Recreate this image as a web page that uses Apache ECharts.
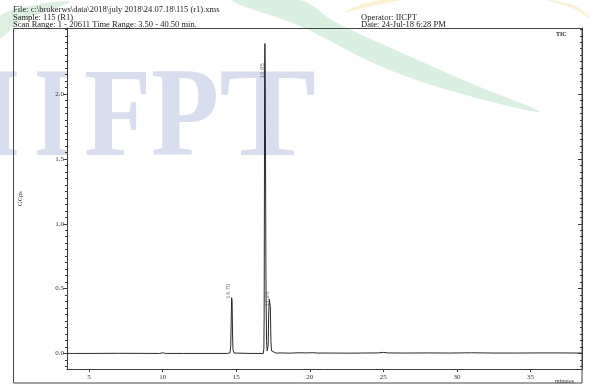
<!DOCTYPE html>
<html><head><meta charset="utf-8">
<script src="https://cdn.jsdelivr.net/npm/echarts@6/dist/echarts.min.js"></script>
<style>html,body{margin:0;padding:0;background:#fff}#c{width:595px;height:388px}</style>
</head><body><div id="c"></div>
<script>
// ---- data ----
const times = [3.5, 3.75, 3.85, 3.95, 5.0, 7.0, 9.8, 10.0, 10.2, 11.4, 11.5, 11.6, 12.4, 12.5, 12.6,
  14.4, 14.58, 14.63, 14.66, 14.69, 14.72, 14.75, 14.78, 14.85, 16.0,
  16.84, 16.88, 16.90, 16.92, 16.93, 16.95, 16.97, 16.99, 17.02, 17.06, 17.10, 17.13,
  17.17, 17.21, 17.25, 17.29, 17.32, 17.36, 17.40, 17.46,
  17.7, 18.2, 18.6, 19.2, 19.8, 20.2, 20.5, 21.5, 22.5, 23.5, 24.6, 25.0, 25.3,
  26.5, 28.0, 29.5, 31.0, 32.5, 34.0, 35.5, 37.0, 38.5];
const signal = [0.0, 0.0, 0.012, 0.0, 0.0, 0.001, 0.0, 0.005, 0.0, 0.0, 0.003, 0.0, 0.0, 0.004, 0.0,
  0.0, 0.005, 0.06, 0.25, 0.43, 0.40, 0.15, 0.03, 0.003, 0.0,
  0.0, 0.04, 0.3, 1.4, 2.2, 2.39, 2.21, 1.6, 0.6, 0.1, 0.02, 0.01,
  0.06, 0.32, 0.42, 0.43, 0.36, 0.09, 0.02, 0.005,
  0.003, 0.004, 0.002, 0.005, 0.004, 0.006, 0.003, 0.003, 0.002, 0.003, 0.004, 0.008, 0.004,
  0.003, 0.004, 0.003, 0.005, 0.003, 0.003, 0.004, 0.004, 0.003];
const peakTimes = [14.70, 16.95, 17.29];
const peakLabelLevels = [0.43, 2.13, 0.37];
const peakLabels = ['14.70', '16.95', '17.28'];
const yLabelValues = [0, 0.5, 1.0, 1.5, 2.0];
const xLabelValues = [5, 10, 15, 20, 25, 30, 35];
const yMin = -0.12, yMax = 2.51, xMin = 3.5, xMax = 38.5;

const yMinorValues = [];
for (let k = -2; k <= 50; k++) yMinorValues.push(Math.round(k * 5) / 100);

const serif = 'Liberation Serif';
const axisColor = '#3a3a3a';

function yAx(pos, ticks, len, inside, withLine, withLabel) {
  return {
    type: 'value', position: pos, min: yMin, max: yMax,
    axisLine: {show: withLine, lineStyle: {color: axisColor, width: 1}},
    axisTick: {show: true, customValues: ticks, length: len, inside: inside, lineStyle: {color: axisColor, width: 1}},
    axisLabel: withLabel ? {show: true, customValues: yLabelValues, formatter: v => v.toFixed(1),
      fontFamily: serif, fontSize: 7, color: '#333', margin: 3} : {show: false},
    splitLine: {show: false}
  };
}

const chart = echarts.init(document.getElementById('c'), null, {renderer: 'canvas'});
const wm = '#d8ddf0';
const wmFont = 'bold 128px "Liberation Serif"';
const hdrFont = '8.5px "Liberation Serif"';
chart.setOption({
  animation: false,
  backgroundColor: '#fff',
  grid: {left: 67, right: 13, top: 28, bottom: 19, containLabel: false},
  xAxis: {
    type: 'value', min: xMin, max: xMax,
    axisLine: {show: true, onZero: false, lineStyle: {color: axisColor, width: 1}},
    axisTick: {show: true, customValues: xLabelValues, length: 3, lineStyle: {color: axisColor}},
    axisLabel: {customValues: xLabelValues, fontFamily: serif, fontSize: 7, color: '#333', margin: 5},
    splitLine: {show: false}
  },
  yAxis: [
    Object.assign(yAx('left', yLabelValues, 4, false, true, true), {
      name: 'GCps', nameLocation: 'middle', nameGap: 43,
      nameTextStyle: {fontFamily: serif, fontSize: 6.5, color: '#333'}
    }),
    yAx('left', yMinorValues, 2, false, false, false),
    yAx('right', yLabelValues, 4, true, true, false),
    yAx('right', yMinorValues, 2, true, false, false)
  ],
  graphic: [
    // background watermark
    {type: 'polygon', z: -5, silent: true, shape: {smooth: 0.35, points: [[300,0],[335,22],[400,52],[470,83],[540,112],[455,92],[380,66],[300,26],[232,0]]}, style: {fill: '#d9efdf'}},
    {type: 'polygon', z: -5, silent: true, shape: {smooth: 0.3, points: [[0,16],[40,4],[70,2],[20,22],[0,38]]}, style: {fill: '#dcefe1'}},
    {type: 'polygon', z: -5, silent: true, shape: {smooth: 0.4, points: [[345,12],[370,2],[400,0],[372,6]]}, style: {fill: '#fbf1cc'}},
    {type: 'polygon', z: -5, silent: true, shape: {smooth: 0.4, points: [[548,0],[575,6],[590,18],[572,8]]}, style: {fill: '#fbf1cc'}},
    {type: 'text', z: -4, silent: true, x: -16, y: 122, scaleX: 0.72, style: {text: 'I', font: wmFont, fill: wm, verticalAlign: 'middle'}},
    {type: 'text', z: -4, silent: true, x: 34, y: 122, scaleX: 0.74, style: {text: 'I', font: wmFont, fill: wm, verticalAlign: 'middle'}},
    {type: 'text', z: -4, silent: true, x: 84, y: 122, scaleX: 0.86, style: {text: 'F', font: wmFont, fill: wm, verticalAlign: 'middle'}},
    {type: 'text', z: -4, silent: true, x: 151, y: 122, scaleX: 0.87, style: {text: 'P', font: wmFont, fill: wm, verticalAlign: 'middle'}},
    {type: 'text', z: -4, silent: true, x: 219, y: 122, scaleX: 1.14, style: {text: 'T', font: wmFont, fill: wm, verticalAlign: 'middle'}},
    // frame
    {type: 'rect', z: 5, silent: true, shape: {x: 13.5, y: 28.5, width: 568.5, height: 354.5}, style: {fill: null, stroke: '#444', lineWidth: 1}},
    // header texts
    {type: 'text', z: 6, x: 13, y: 10, style: {text: 'File: c:\\brukerws\\data\\2018\\july 2018\\24.07.18\\115 (r1).xms', font: hdrFont, fill: '#222', verticalAlign: 'middle'}},
    {type: 'text', z: 6, x: 13, y: 17.5, style: {text: 'Sample: 115 (R1)', font: hdrFont, fill: '#222', verticalAlign: 'middle'}},
    {type: 'text', z: 6, x: 13, y: 24.5, style: {text: 'Scan Range: 1 - 20611 Time Range: 3.50 - 40.50 min.', font: hdrFont, fill: '#222', verticalAlign: 'middle'}},
    {type: 'text', z: 6, x: 361, y: 17.5, style: {text: 'Operator: IICPT', font: hdrFont, fill: '#222', verticalAlign: 'middle'}},
    {type: 'text', z: 6, x: 361, y: 24.5, style: {text: 'Date: 24-Jul-18 6:28 PM', font: hdrFont, fill: '#222', verticalAlign: 'middle'}},
    {type: 'text', z: 6, x: 556, y: 34, style: {text: 'TIC', font: 'bold 6px "Liberation Serif"', fill: '#222', verticalAlign: 'middle'}},
    {type: 'text', z: 6, x: 555, y: 381, style: {text: 'minutes', font: '6px "Liberation Serif"', fill: '#333', verticalAlign: 'middle'}}
  ],
  series: [
    {
      type: 'line', name: 'TIC', data: times.map((t, i) => [t, signal[i]]),
      showSymbol: false, symbol: 'none', sampling: null, z: 3,
      lineStyle: {color: '#2a2a2a', width: 1}
    },
    {
      type: 'scatter', name: 'peaks', data: peakTimes.map((t, i) => [t, peakLabelLevels[i]]),
      symbolSize: 1, itemStyle: {color: 'rgba(0,0,0,0)'}, z: 4,
      label: {show: true, formatter: p => peakLabels[p.dataIndex], rotate: 90, position: 'inside',
        align: 'left', verticalAlign: 'bottom', offset: [-1, 0], fontFamily: 'Liberation Sans', fontSize: 6, color: '#555'}
    }
  ]
});
</script></body></html>
